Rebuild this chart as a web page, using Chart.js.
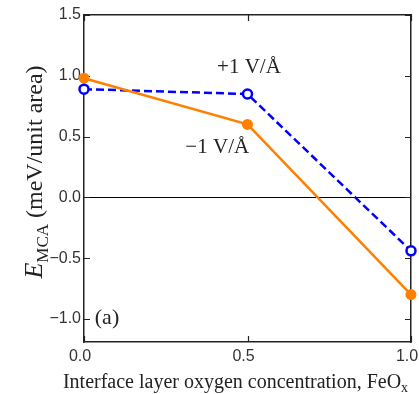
<!DOCTYPE html>
<html>
<head>
<meta charset="utf-8">
<script src="https://cdn.jsdelivr.net/npm/chart.js@4"></script>
<style>
  html, body { margin: 0; padding: 0; background: #fff; }
  #wrap { width: 419px; height: 394px; }
</style>
</head>
<body>
<div id="wrap"><canvas id="chart0"></canvas></div>
<script>
var oxygen = [0.0, 0.5, 1.0];
var plusField = [0.89, 0.85, -0.44];
var minusField = [0.98, 0.60, -0.80];
var xTicks = [0.0, 0.5, 1.0];
var yTicks = [-1.0, -0.5, 0.0, 0.5, 1.0, 1.5];

function pts(xs, ys) {
    return xs.map(function (x, i) { return { x: x, y: ys[i] }; });
}

var orange = '#ff8000';
var blue = '#0000ff';

// inward ticks, zero line, titles with subscripts, labels
var extras = {
    id: 'extras',
    beforeDatasetsDraw: function (chart) {
        var ctx = chart.ctx, a = chart.chartArea;
        var xs = chart.scales.x, ys = chart.scales.y;
        ctx.save();
        ctx.strokeStyle = '#000';
        ctx.lineWidth = 1;
        var y0 = Math.round(ys.getPixelForValue(0)) + 0.5;
        ctx.beginPath();
        ctx.moveTo(a.left, y0);
        ctx.lineTo(a.right, y0);
        ctx.stroke();
        ctx.strokeStyle = '#222';
        ctx.lineWidth = 1.2;
        yTicks.forEach(function (v) {
            var p = Math.round(ys.getPixelForValue(v)) + 0.5;
            ctx.beginPath();
            ctx.moveTo(a.left, p); ctx.lineTo(a.left + 6, p);
            ctx.moveTo(a.right, p); ctx.lineTo(a.right - 6, p);
            ctx.stroke();
        });
        xTicks.forEach(function (v) {
            var p = Math.round(xs.getPixelForValue(v)) + 0.5;
            ctx.beginPath();
            ctx.moveTo(p, a.bottom); ctx.lineTo(p, a.bottom - 6);
            ctx.moveTo(p, a.top); ctx.lineTo(p, a.top + 6);
            ctx.stroke();
        });
        ctx.restore();
    },
    afterDraw: function (chart) {
        var ctx = chart.ctx, a = chart.chartArea;
        var xs = chart.scales.x, ys = chart.scales.y;
        ctx.save();
        ctx.fillStyle = '#222';
        ctx.textBaseline = 'middle';

        ctx.font = '21px "Liberation Serif"';
        ctx.textAlign = 'left';
        ctx.fillText('+1 V/\u00c5', xs.getPixelForValue(0.407), ys.getPixelForValue(1.07));
        ctx.fillText('\u22121 V/\u00c5', xs.getPixelForValue(0.31), ys.getPixelForValue(0.41));
        ctx.font = '22px "Liberation Serif"';
        ctx.fillText('(a)', xs.getPixelForValue(0.033), ys.getPixelForValue(-0.995));

        // x title
        var main = 'Interface layer oxygen concentration, FeO';
        ctx.font = '20px "Liberation Serif"';
        var w1 = ctx.measureText(main).width;
        ctx.font = '14px "Liberation Serif"';
        var w2 = ctx.measureText('x').width;
        var cx = (a.left + a.right) / 2 - 12;
        var sx = cx - (w1 + w2) / 2;
        ctx.textAlign = 'left';
        ctx.textBaseline = 'alphabetic';
        ctx.font = '20px "Liberation Serif"';
        ctx.fillText(main, sx, 388);
        ctx.font = '14px "Liberation Serif"';
        ctx.fillText('x', sx + w1, 392);

        // y title
        ctx.translate(34, 172);
        ctx.rotate(-Math.PI / 2);
        var e = 'E', sub = 'MCA', rest = ' (meV/unit area)';
        ctx.font = 'italic 26px "Liberation Serif"';
        var we = ctx.measureText(e).width;
        ctx.font = '17px "Liberation Serif"';
        var ws = ctx.measureText(sub).width;
        ctx.font = '24px "Liberation Serif"';
        var wr = ctx.measureText(rest).width;
        var x = -(we + ws + wr) / 2;
        ctx.font = 'italic 26px "Liberation Serif"';
        ctx.fillText(e, x, 8);
        ctx.font = '17px "Liberation Serif"';
        ctx.fillText(sub, x + we, 14);
        ctx.font = '24px "Liberation Serif"';
        ctx.fillText(rest, x + we + ws, 8);
        ctx.restore();
    }
};

var chart = new Chart(document.getElementById('chart0'), {
    type: 'line',
    data: {
        datasets: [{
            label: '-1 V/\u00c5',
            data: pts(oxygen, minusField),
            borderColor: orange,
            backgroundColor: orange,
            borderWidth: 2.5,
            pointRadius: 5.5,
            pointBorderWidth: 0,
            pointBackgroundColor: orange,
            clip: false,
            order: 1
        }, {
            label: '+1 V/\u00c5',
            data: pts(oxygen, plusField),
            borderColor: blue,
            backgroundColor: '#fff',
            borderWidth: 2.5,
            borderDash: [8, 4],
            pointRadius: 4.5,
            pointBorderWidth: 2.5,
            pointBackgroundColor: '#fff',
            pointBorderColor: blue,
            clip: false,
            order: 2
        }]
    },
    options: {
        responsive: true,
        maintainAspectRatio: false,
        animation: false,
        layout: { padding: { top: 15, right: 8, left: 0, bottom: 0 } },
        plugins: {
            legend: { display: false },
            tooltip: { enabled: false }
        },
        scales: {
            x: {
                type: 'linear',
                min: 0,
                max: 1,
                afterBuildTicks: function (s) { s.ticks = xTicks.map(function (v) { return { value: v }; }); },
                afterFit: function (s) { s.height = 52; s.paddingLeft = 0; s.paddingRight = 0; },
                grid: { display: false, drawTicks: false },
                border: { display: true, color: '#222', width: 1.5 },
                ticks: {
                    padding: 5,
                    labelOffset: -4,
                    color: '#333',
                    font: { family: '"Liberation Sans"', size: 16 },
                    callback: function (v) { return v.toFixed(1); }
                }
            },
            y: {
                min: -1.19,
                max: 1.5,
                afterBuildTicks: function (s) { s.ticks = yTicks.map(function (v) { return { value: v }; }); },
                afterFit: function (s) { s.width = 84; s.paddingTop = 0; s.paddingBottom = 0; },
                grid: { display: false, drawTicks: false },
                border: { display: true, color: '#222', width: 1.5 },
                ticks: {
                    padding: 3,
                    color: '#333',
                    font: { family: '"Liberation Sans"', size: 16 },
                    callback: function (v) { return v.toFixed(1).replace('-', '\u2212'); }
                }
            },
            x2: {
                type: 'linear', position: 'top', min: 0, max: 1,
                grid: { display: false, drawTicks: false },
                border: { display: true, color: '#222', width: 1.5 },
                ticks: { display: false },
                afterFit: function (s) { s.height = 0; s.paddingLeft = 0; s.paddingRight = 0; }
            },
            y2: {
                position: 'right', min: -1.19, max: 1.5,
                grid: { display: false, drawTicks: false },
                border: { display: true, color: '#222', width: 1.5 },
                ticks: { display: false },
                afterFit: function (s) { s.width = 0; s.paddingTop = 0; s.paddingBottom = 0; }
            }
        }
    },
    plugins: [extras]
});
</script>
</body>
</html>
